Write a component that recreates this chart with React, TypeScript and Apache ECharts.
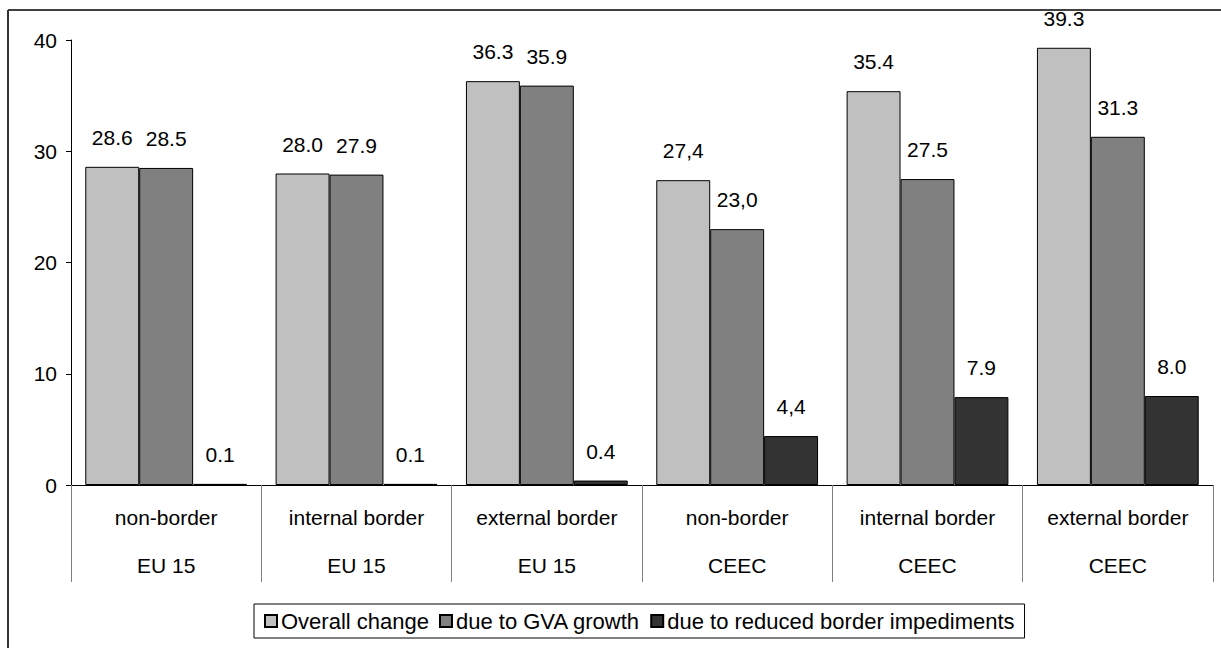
import React, { useEffect, useRef } from "react";
import * as echarts from "echarts";

const regionTypes = ["non-border", "internal border", "external border", "non-border", "internal border", "external border"];
const regionGroups = ["EU 15", "EU 15", "EU 15", "CEEC", "CEEC", "CEEC"];

const seriesNames = ["Overall change", "due to GVA growth", "due to reduced border impediments"];
const overallValues = [28.6, 28.0, 36.3, 27.4, 35.4, 39.3];
const gvaValues = [28.5, 27.9, 35.9, 23.0, 27.5, 31.3];
const borderValues = [0.1, 0.1, 0.4, 4.4, 7.9, 8.0];

const overallLabels = ["28.6", "28.0", "36.3", "27,4", "35.4", "39.3"];
const gvaLabels = ["28.5", "27.9", "35.9", "23,0", "27.5", "31.3"];
const borderLabels = ["0.1", "0.1", "0.4", "4,4", "7.9", "8.0"];

const yTicks = { min: 0, max: 40, interval: 10 };

const FONT = "'Liberation Sans', Arial, sans-serif";
const colors = ["#C0C0C0", "#808080", "#333333"];

export default function App() {
  const ref = useRef<HTMLDivElement>(null);

  useEffect(() => {
    if (!ref.current) return;
    const chart = echarts.init(ref.current, null, { renderer: "svg" });
    const categories = regionTypes.map((t, i) => `${t}|${regionGroups[i]}`);
    const mk = (name: string, values: number[], labels: string[], color: string) => ({
      name,
      type: "bar",
      data: values,
      barGap: "0%",
      barCategoryGap: "15%",
      itemStyle: { color, borderColor: "#000", borderWidth: 1 },
      label: {
        show: true,
        position: "top",
        distance: 19,
        fontSize: 21,
        color: "#000",
        fontFamily: FONT,
        formatter: (p: any) => labels[p.dataIndex],
      },
    });
    chart.setOption({
      animation: false,
      backgroundColor: "#fff",
      textStyle: { fontFamily: FONT },
      grid: { left: 71, right: 8, top: 40, bottom: 163, containLabel: false },
      legend: {
        data: seriesNames,
        left: 254,
        top: 604,
        orient: "horizontal",
        itemWidth: 12,
        itemHeight: 12,
        itemGap: 10,
        padding: [6, 10],
        borderColor: "#000",
        borderWidth: 1,
        icon: "rect",
        textStyle: { fontSize: 22, color: "#000", fontFamily: FONT, padding: [0, 0, 0, -1] },
      },
      xAxis: {
        type: "category",
        data: categories,
        axisLine: { show: true, lineStyle: { color: "#000", width: 1 } },
        axisTick: { show: true, length: 97, interval: 0, lineStyle: { color: "#808080", width: 1 } },
        axisLabel: {
          interval: 0,
          margin: 8,
          formatter: (v: string) => {
            const [a, b] = v.split("|");
            return `{a|${a}}\n{b|${b}}`;
          },
          rich: {
            a: { fontSize: 21, lineHeight: 48, color: "#000", fontFamily: FONT },
            b: { fontSize: 21, lineHeight: 48, color: "#000", fontFamily: FONT },
          },
        },
        splitLine: { show: false },
      },
      yAxis: {
        type: "value",
        min: yTicks.min,
        max: yTicks.max,
        interval: yTicks.interval,
        axisLine: { show: true, lineStyle: { color: "#000", width: 1 } },
        axisTick: { show: true, length: 5, inside: false, lineStyle: { color: "#000" } },
        axisLabel: { fontSize: 21, color: "#000", margin: 14, fontFamily: FONT },
        splitLine: { show: false },
      },
      graphic: [
        { type: "line", shape: { x1: 8, y1: 10, x2: 1221, y2: 10 }, style: { stroke: "#000", lineWidth: 1.5 } },
        { type: "line", shape: { x1: 8, y1: 10, x2: 8, y2: 648 }, style: { stroke: "#333", lineWidth: 2 } },
      ],
      series: [
        mk(seriesNames[0], overallValues, overallLabels, colors[0]),
        mk(seriesNames[1], gvaValues, gvaLabels, colors[1]),
        mk(seriesNames[2], borderValues, borderLabels, colors[2]),
      ],
    });
    return () => chart.dispose();
  }, []);

  return (
    <div
      ref={ref}
      style={{ position: "fixed", left: 0, top: 0, width: 1221, height: 648, background: "#fff" }}
    />
  );
}
